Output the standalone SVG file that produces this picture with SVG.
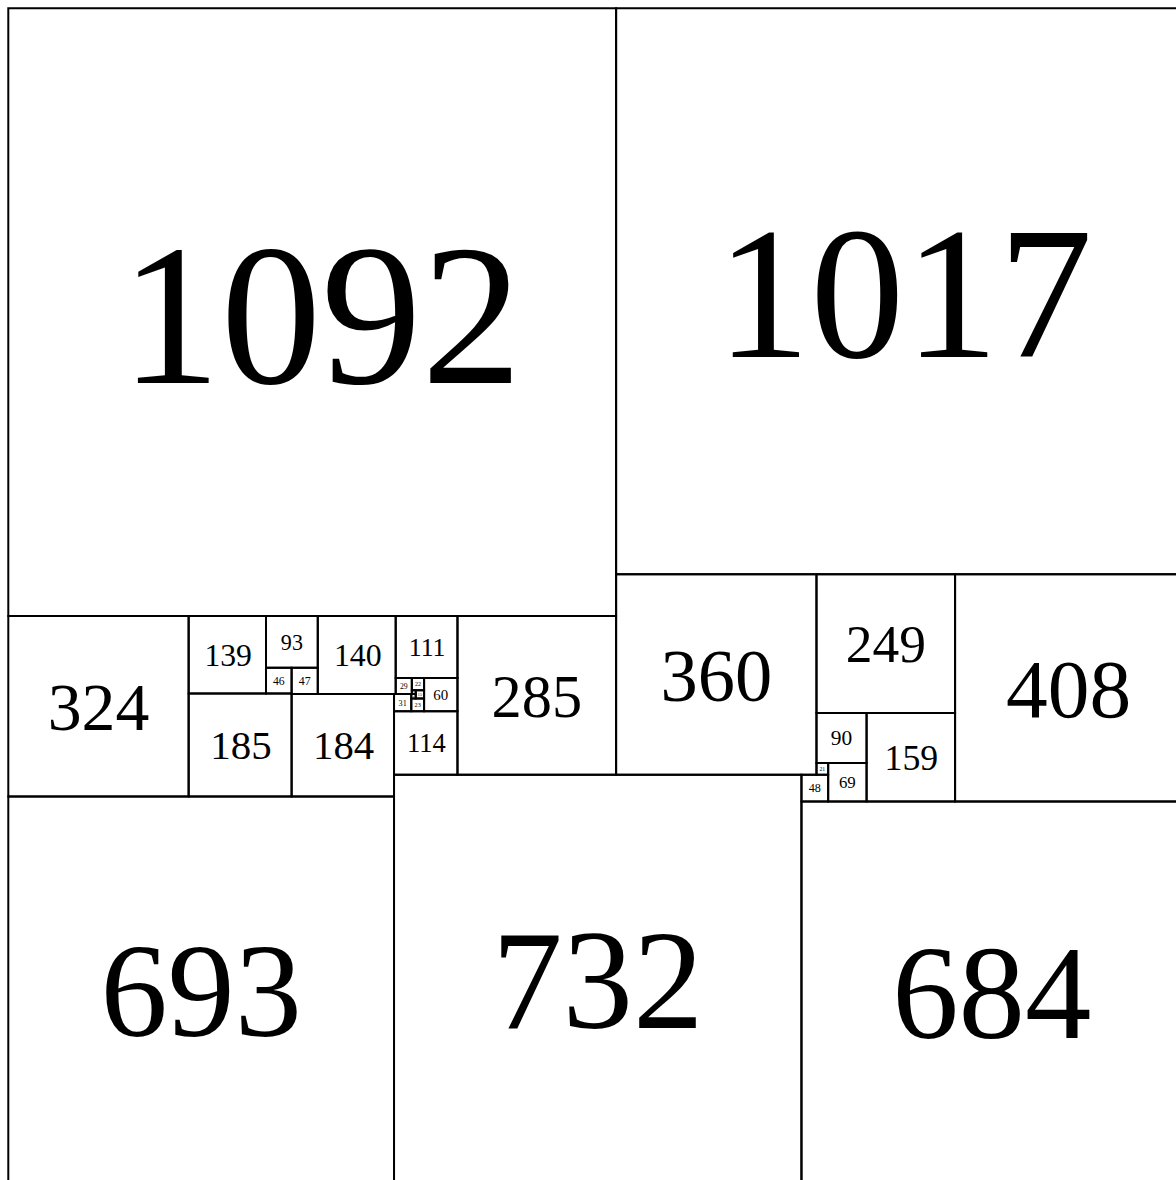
<svg xmlns="http://www.w3.org/2000/svg" width="1176" height="1180" viewBox="0 0 1176 1180">
<style>
rect.sq { fill: none; stroke: #000; stroke-width: 2; vector-effect: non-scaling-stroke; }
text { font-family: "Liberation Serif", "Times New Roman", serif; fill: #000; text-anchor: middle; }
</style>
<rect x="0" y="0" width="1176" height="1180" fill="#fff"/>
<g id="squares" transform="translate(8.3 8.3) scale(0.5566)">
<g id="n1092"><rect class="sq" x="0" y="0" width="1092" height="1092"/><text x="562" y="546" dy="0.35em" font-size="361">1092</text></g>
<g id="n1017"><rect class="sq" x="1092" y="0" width="1017" height="1017"/><text x="1610" y="508.5" dy="0.35em" font-size="338">1017</text></g>
<g id="n324"><rect class="sq" x="0" y="1092" width="324" height="324"/><text x="162" y="1254" dy="0.35em" font-size="121.8">324</text></g>
<g id="n139"><rect class="sq" x="324" y="1092" width="139" height="139"/><text x="395" y="1161.5" dy="0.35em" font-size="56.9">139</text></g>
<g id="n93"><rect class="sq" x="463" y="1092" width="93" height="93"/><text x="509.5" y="1138.5" dy="0.35em" font-size="39.6">93</text></g>
<g id="n46"><rect class="sq" x="463" y="1185" width="46" height="46"/><text x="486" y="1208" dy="0.35em" font-size="21">46</text></g>
<g id="n47"><rect class="sq" x="509" y="1185" width="47" height="47"/><text x="532.5" y="1208.5" dy="0.35em" font-size="21.4">47</text></g>
<g id="n140"><rect class="sq" x="556" y="1092" width="140" height="140"/><text x="628" y="1162" dy="0.35em" font-size="57.2">140</text></g>
<g id="n111"><rect class="sq" x="696" y="1092" width="111" height="111"/><text x="752.5" y="1147.5" dy="0.35em" font-size="46.4">111</text></g>
<g id="n285"><rect class="sq" x="807" y="1092" width="285" height="285"/><text x="949.5" y="1234.5" dy="0.35em" font-size="108.5">285</text></g>
<g id="n185"><rect class="sq" x="324" y="1231" width="185" height="185"/><text x="418" y="1323.5" dy="0.35em" font-size="73.5">185</text></g>
<g id="n184"><rect class="sq" x="509" y="1232" width="184" height="184"/><text x="602.5" y="1324" dy="0.35em" font-size="73.2">184</text></g>
<g id="n29"><rect class="sq" x="696" y="1203" width="29" height="29"/><text x="710.5" y="1217.5" dy="0.35em" font-size="13.9">29</text></g>
<g id="n22"><rect class="sq" x="725" y="1203" width="22" height="22"/><text x="736" y="1214" dy="0.35em" font-size="10.8">22</text></g>
<g id="n7"><rect class="sq" x="725" y="1225" width="7" height="7"/><text x="728.5" y="1228.5" dy="0.35em" font-size="3.9">7</text></g>
<g id="n15"><rect class="sq" x="732" y="1225" width="15" height="15"/><text x="739.5" y="1232.5" dy="0.35em" font-size="7.7">15</text></g>
<g id="n8"><rect class="sq" x="724" y="1232" width="8" height="8"/><text x="728" y="1236" dy="0.35em" font-size="4.35">8</text></g>
<g id="n31"><rect class="sq" x="693" y="1232" width="31" height="31"/><text x="708.5" y="1247.5" dy="0.35em" font-size="14.7">31</text></g>
<g id="n23"><rect class="sq" x="724" y="1240" width="23" height="23"/><text x="735.5" y="1251.5" dy="0.35em" font-size="11.3">23</text></g>
<g id="n60"><rect class="sq" x="747" y="1203" width="60" height="60"/><text x="777" y="1233" dy="0.35em" font-size="26.7">60</text></g>
<g id="n114"><rect class="sq" x="693" y="1263" width="114" height="114"/><text x="751" y="1320" dy="0.35em" font-size="47.6">114</text></g>
<g id="n693"><rect class="sq" x="0" y="1416" width="693" height="693"/><text x="346.5" y="1762.5" dy="0.35em" font-size="241.4">693</text></g>
<g id="n732"><rect class="sq" x="693" y="1377" width="732" height="732"/><text x="1059" y="1743" dy="0.35em" font-size="253.6">732</text></g>
<g id="n360"><rect class="sq" x="1092" y="1017" width="360" height="360"/><text x="1272" y="1197" dy="0.35em" font-size="133.9">360</text></g>
<g id="n249"><rect class="sq" x="1452" y="1017" width="249" height="249"/><text x="1576.5" y="1141.5" dy="0.35em" font-size="96.1">249</text></g>
<g id="n408"><rect class="sq" x="1701" y="1017" width="408" height="408"/><text x="1905" y="1221" dy="0.35em" font-size="149.9">408</text></g>
<g id="n90"><rect class="sq" x="1452" y="1266" width="90" height="90"/><text x="1497" y="1311" dy="0.35em" font-size="38.5">90</text></g>
<g id="n159"><rect class="sq" x="1542" y="1266" width="159" height="159"/><text x="1622.5" y="1345.5" dy="0.35em" font-size="64.2">159</text></g>
<g id="n21"><rect class="sq" x="1452" y="1356" width="21" height="21"/><text x="1462.5" y="1366.5" dy="0.35em" font-size="10.4">21</text></g>
<g id="n69"><rect class="sq" x="1473" y="1356" width="69" height="69"/><text x="1507.5" y="1390.5" dy="0.35em" font-size="30.3">69</text></g>
<g id="n48"><rect class="sq" x="1425" y="1377" width="48" height="48"/><text x="1449" y="1401" dy="0.35em" font-size="21.8">48</text></g>
<g id="n684"><rect class="sq" x="1425" y="1425" width="684" height="684"/><text x="1767" y="1767" dy="0.35em" font-size="238.6">684</text></g>
</g>
<g id="connectors"/>
</svg>
